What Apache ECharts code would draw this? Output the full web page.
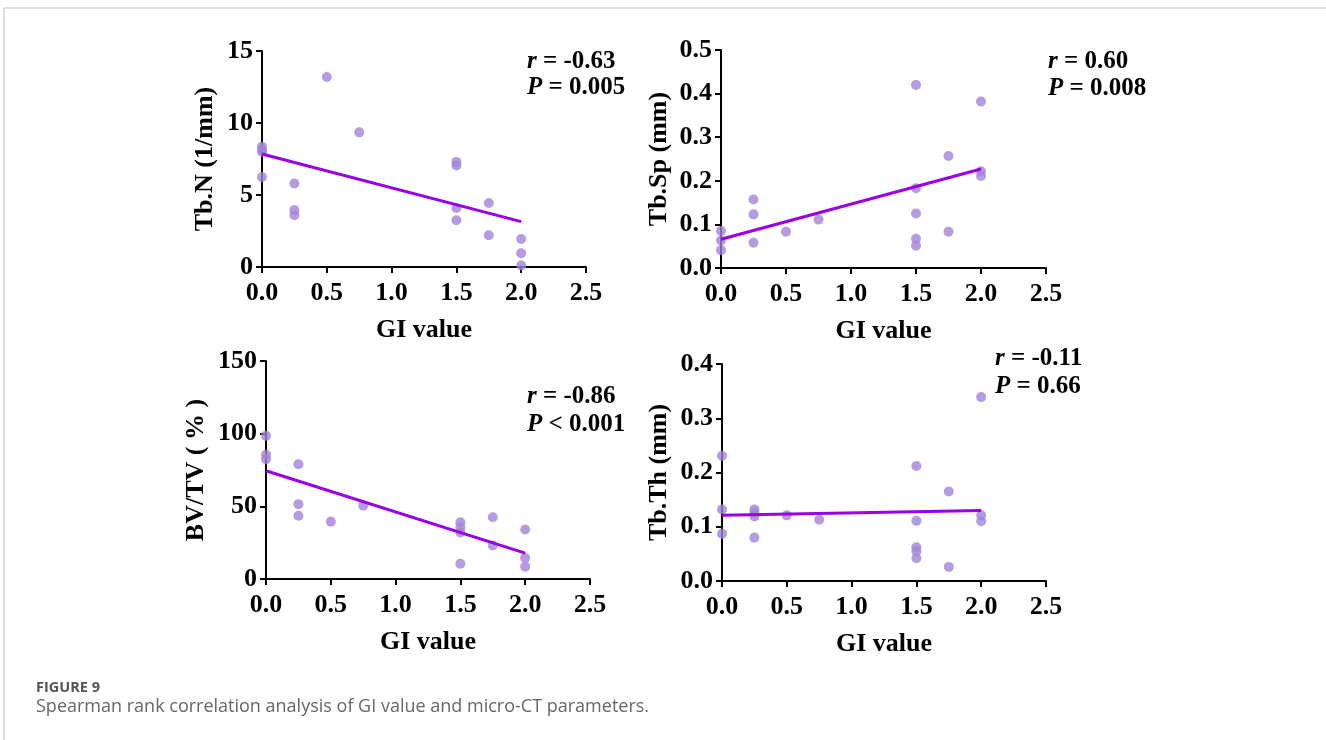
<!DOCTYPE html>
<html>
<head>
<meta charset="utf-8">
<script src="https://cdn.jsdelivr.net/npm/echarts@6/dist/echarts.min.js"></script>
<style>
html,body{margin:0;padding:0;background:#fff;}
#chart{width:1326px;height:740px;}
</style>
</head>
<body>
<div id="chart"></div>
<script>
// ---- data ----
const xTickLabels = ['0.0','0.5','1.0','1.5','2.0','2.5'];

const tbnX = [0,0,0,0,0.25,0.25,0.25,0.5,0.75,1.5,1.5,1.5,1.5,1.75,1.75,2,2,2];
const tbnY = [8.35,8.15,8.0,6.25,5.8,3.95,3.6,13.2,9.35,7.3,7.05,4.1,3.25,4.45,2.2,1.95,0.95,0.1];
const tbnFit = [[0,7.85],[2,3.15]];
const tbnTicks = ['0','5','10','15'];

const tbspX = [0,0,0,0.25,0.25,0.25,0.5,0.75,1.5,1.5,1.5,1.5,1.5,1.75,1.75,2,2,2];
const tbspY = [0.085,0.063,0.041,0.157,0.123,0.058,0.083,0.111,0.42,0.183,0.125,0.067,0.051,0.257,0.083,0.382,0.222,0.211];
const tbspFit = [[0,0.066],[2,0.227]];
const tbspTicks = ['0.0','0.1','0.2','0.3','0.4','0.5'];

const bvtvX = [0,0,0,0.25,0.25,0.25,0.5,0.75,1.5,1.5,1.5,1.5,1.75,1.75,2,2,2];
const bvtvY = [98.5,85.5,82.5,79,51.5,43.5,39.5,50.5,39,35.5,32,10.5,42.5,23,34,14.5,8.5];
const bvtvFit = [[0,74.5],[2,17.8]];
const bvtvTicks = ['0','50','100','150'];

const tbthX = [0,0,0,0.25,0.25,0.25,0.25,0.5,0.75,1.5,1.5,1.5,1.5,1.5,1.75,1.75,2,2,2];
const tbthY = [0.231,0.132,0.087,0.132,0.126,0.119,0.08,0.121,0.113,0.212,0.111,0.062,0.055,0.042,0.165,0.026,0.339,0.121,0.11];
const tbthFit = [[0,0.121],[2,0.130]];
const tbthTicks = ['0.0','0.1','0.2','0.3','0.4'];

const yNames = ['Tb.N (1/mm)','Tb.Sp (mm)','BV/TV ( % )','Tb.Th (mm)'];
const rTexts = ['-0.63','0.60','-0.86','-0.11'];
const pTexts = ['= 0.005','= 0.008','< 0.001','= 0.66'];
const xName = 'GI value';
const figLabel = 'FIGURE 9';
const caption = 'Spearman rank correlation analysis of GI value and micro-CT parameters.';

// ---- layout ----
const SERIF = 'Liberation Serif';
const grids = [
  {left:262, top:51, width:324, height:216},
  {left:721, top:50, width:325, height:218},
  {left:266, top:361, width:324, height:218},
  {left:722, top:364, width:324, height:217}
];
const yCfg = [
  {max:15, interval:5, ticks:tbnTicks, gap:44},
  {max:0.5, interval:0.1, ticks:tbspTicks, gap:49},
  {max:150, interval:50, ticks:bvtvTicks, gap:57},
  {max:0.4, interval:0.1, ticks:tbthTicks, gap:50}
];
const pts = [[tbnX,tbnY],[tbspX,tbspY],[bvtvX,bvtvY],[tbthX,tbthY]];
const fits = [tbnFit,tbspFit,bvtvFit,tbthFit];
const annPos = [[527,62,88],[1048,62,89],[527,397,425],[995,359,387]];

const axisLine = {show:true, onZero:false, lineStyle:{color:'#000', width:2}};
const axisTick = {show:true, inside:false, length:6, lineStyle:{color:'#000', width:2}};
const labelStyle = {color:'#000', fontFamily:SERIF, fontWeight:'bold', fontSize:26};

const xAxis = grids.map((g,i)=>({
  type:'value', gridIndex:i, min:0, max:2.5, interval:0.5,
  axisLine, axisTick, splitLine:{show:false},
  axisLabel:Object.assign({margin:13, formatter:v=>xTickLabels[Math.round(v/0.5)]}, labelStyle),
  name:xName, nameLocation:'middle', nameGap:50,
  nameTextStyle:Object.assign({}, labelStyle)
}));
const yAxis = yCfg.map((c,i)=>({
  type:'value', gridIndex:i, min:0, max:c.max, interval:c.interval,
  axisLine, axisTick, splitLine:{show:false},
  axisLabel:Object.assign({margin:9, formatter:v=>c.ticks[Math.round(v/c.interval)]}, labelStyle),
  name:yNames[i], nameLocation:'middle', nameGap:c.gap,
  nameTextStyle:Object.assign({}, labelStyle)
}));

const series = [];
pts.forEach((p,i)=>{
  series.push({
    type:'scatter', xAxisIndex:i, yAxisIndex:i,
    data:p[0].map((x,k)=>[x,p[1][k]]),
    symbol:'circle', symbolSize:10,
    itemStyle:{color:'#a383d9'}, z:2
  });
  series.push({
    type:'line', xAxisIndex:i, yAxisIndex:i,
    data:fits[i], symbol:'none',
    lineStyle:{color:'#9a00e6', width:3}, z:3
  });
});

const rich = {
  i:{fontFamily:SERIF, fontWeight:'bold', fontStyle:'italic', fontSize:25, fill:'#000'},
  n:{fontFamily:SERIF, fontWeight:'bold', fontSize:25, fill:'#000'}
};
const graphic = [
  {type:'line', shape:{x1:4,y1:8,x2:1326,y2:8}, style:{stroke:'#d4d4d4', lineWidth:1.5}, silent:true},
  {type:'line', shape:{x1:4,y1:8,x2:4,y2:740}, style:{stroke:'#d4d4d4', lineWidth:1.5}, silent:true},
  {type:'text', style:{x:36, y:688, text:figLabel, fill:'#555', fontFamily:'Open Sans', fontSize:14.5, fontWeight:'bold', verticalAlign:'middle'}},
  {type:'text', style:{x:36, y:707, text:caption, fill:'#666', fontFamily:'Open Sans', fontSize:18, verticalAlign:'middle'}}
];
annPos.forEach((a,i)=>{
  graphic.push({type:'text', style:{x:a[0], y:a[1], text:'{i|r}{n| = '+rTexts[i]+'}', rich, verticalAlign:'middle'}});
  graphic.push({type:'text', style:{x:a[0], y:a[2], text:'{i|P}{n| '+pTexts[i]+'}', rich, verticalAlign:'middle'}});
});

const chart = echarts.init(document.getElementById('chart'), null, {renderer:'canvas'});
chart.setOption({
  backgroundColor:'#fff',
  animation:false,
  grid:grids,
  xAxis, yAxis, series, graphic
});
</script>
</body>
</html>
